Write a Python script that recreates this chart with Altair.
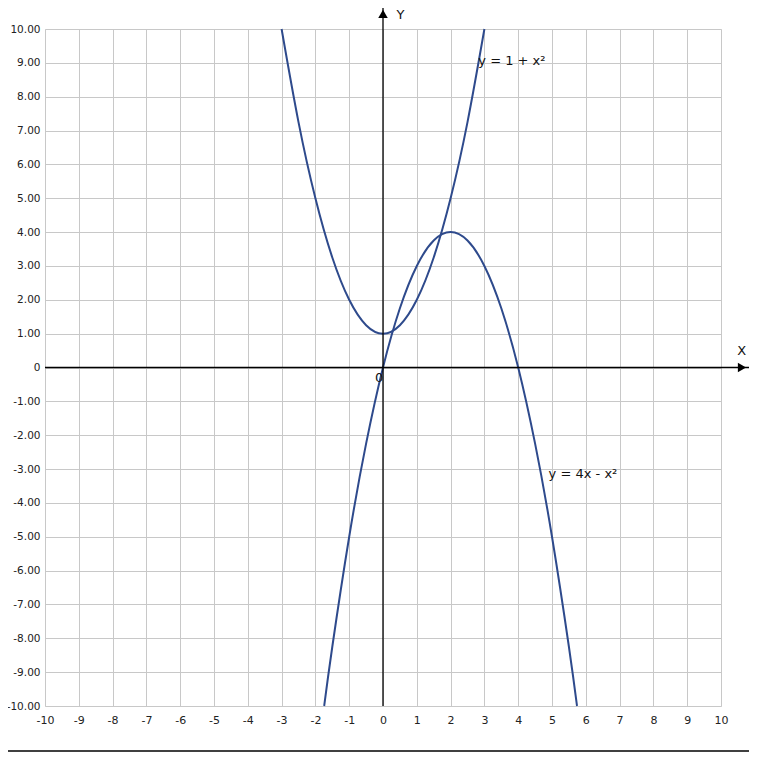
import altair as alt
import pandas as pd

# Curve 1: y = 1 + x^2
c1_x = [-3.0, -2.5, -2.0, -1.5, -1.0, -0.5, 0.0, 0.5, 1.0, 1.5, 2.0, 2.5, 3.0]
c1_y = [10.0, 7.25, 5.0, 3.25, 2.0, 1.25, 1.0, 1.25, 2.0, 3.25, 5.0, 7.25, 10.0]
# Curve 2: y = 4x - x^2
c2_x = [-1.74, -1.5, -1.0, -0.5, 0.0, 0.5, 1.0, 1.5, 2.0, 2.5, 3.0, 3.5, 4.0, 4.5, 5.0, 5.5, 5.74]
c2_y = [-10.0, -8.25, -5.0, -2.25, 0.0, 1.75, 3.0, 3.75, 4.0, 3.75, 3.0, 1.75, 0.0, -2.25, -5.0, -8.25, -10.0]

x_ticks = list(range(-10, 11))
y_ticks = list(range(-10, 11))

labels_text = ["y = 1 + x²", "y = 4x - x²", "X", "0"]
labels_x = [2.82, 4.9, 10.48, -0.24]
labels_y = [9.05, -3.15, 0.5, -0.3]
ylab_text = ["Y"]
ylab_x = [0.4]
ylab_y = [10.6]

BLUE = "#2e4a8c"
FONT = "DejaVu Sans"

df1 = pd.DataFrame({"x": c1_x, "y": c1_y})
df2 = pd.DataFrame({"x": c2_x, "y": c2_y})
dl = pd.DataFrame({"x": labels_x, "y": labels_y, "t": labels_text})
dyl = pd.DataFrame({"x": ylab_x, "y": ylab_y, "t": ylab_text})

xs = alt.Scale(domain=[-10, 10], nice=False, zero=False)
ys = alt.Scale(domain=[-10, 10], nice=False, zero=False)

xax = alt.Axis(values=x_ticks, tickCount=21, grid=True, gridColor="#c8c8c8", gridWidth=1, ticks=False,
               domain=False, labelFont=FONT, labelFontSize=11, labelColor="#222222",
               labelPadding=8, title=None, labelFlush=False, labelOverlap=False,
               labelExpr="(datum.value < 0 ? '-' : '') + format(abs(datum.value), 'd')")
yax = alt.Axis(values=y_ticks, tickCount=21, grid=True, gridColor="#c8c8c8", gridWidth=1, ticks=False,
               domain=False, labelFont=FONT, labelFontSize=10.5, labelColor="#222222",
               labelPadding=5, title=None, labelOverlap=False, labelFlush=False,
               labelExpr="datum.value == 0 ? '0' : (datum.value < 0 ? '-' : '') + format(abs(datum.value), '.2f')")

X = alt.X("x:Q", scale=xs, axis=xax)
Y = alt.Y("y:Q", scale=ys, axis=yax)

base = alt.Chart(df1).mark_line(color=BLUE, strokeWidth=2, interpolate="natural").encode(x=X, y=Y)
curve2 = alt.Chart(df2).mark_line(color=BLUE, strokeWidth=2, interpolate="natural").encode(x=X, y=Y)

axes_df = pd.DataFrame({"x": [-10, 0], "x2": [10.85, 0], "y": [0, -10], "y2": [0, 10.7]})
axis_lines = alt.Chart(axes_df).mark_rule(color="black", strokeWidth=1.3, clip=False).encode(
    x=X, x2="x2:Q", y=Y, y2="y2:Q")

arrows_df = pd.DataFrame({"x": [10.62, 0], "y": [0, 10.45], "s": ["triangle-right", "triangle-up"]})
arrows = alt.Chart(arrows_df).mark_point(filled=True, color="black", opacity=1, size=90, clip=False).encode(
    x=X, y=Y, shape=alt.Shape("s:N", scale=None, legend=None))

texts = alt.Chart(dl).mark_text(font=FONT, fontSize=13, color="#111111", align="left",
                                baseline="middle", clip=False).encode(x=X, y=Y, text="t:N")
ytext = alt.Chart(dyl).mark_text(font=FONT, fontSize=13, color="#111111", align="left",
                                 baseline="top", clip=False).encode(x=X, y=Y, text="t:N")

bottom_df = pd.DataFrame({"x": [-11.4], "x2": [11.2], "y": [-11.33]})
bottom_line = alt.Chart(bottom_df).mark_rule(color="black", strokeWidth=1.5, clip=False).encode(
    x=X, x2="x2:Q", y=Y)

chart = alt.layer(base, curve2, axis_lines, arrows, texts, ytext, bottom_line).properties(
    width=676, height=677,
    autosize=alt.AutoSizeParams(type="none"),
    padding={"left": 37, "top": 21, "right": 28, "bottom": 47},
).configure_view(stroke="#c8c8c8").configure(background="white")

chart.save("out.html", embed_options={"renderer": "svg", "actions": False})
